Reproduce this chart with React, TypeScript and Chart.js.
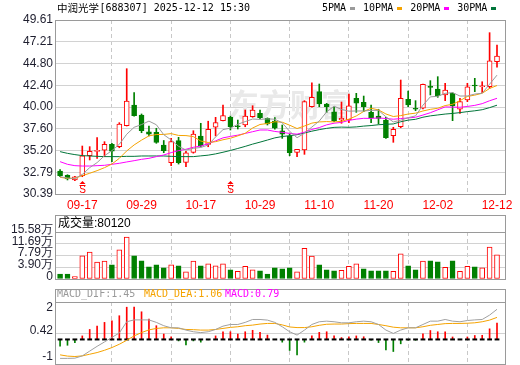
import React, { useEffect, useRef } from "react";
import { Chart, registerables } from "chart.js";

Chart.register(...registerables);

// ---------------- data ----------------
const stockName = "中润光学";
const stockCode = "688307";
const stamp = "2025-12-12 15:30";

const dates = ["09-12","09-15","09-16","09-17","09-18","09-19","09-22","09-23","09-24","09-25","09-26","09-29","09-30","10-09","10-10","10-13","10-14","10-15","10-16","10-17","10-20","10-21","10-22","10-23","10-24","10-27","10-28","10-29","10-30","10-31","11-03","11-04","11-05","11-06","11-07","11-10","11-11","11-12","11-13","11-14","11-17","11-18","11-19","11-20","11-21","11-24","11-25","11-26","11-27","11-28","12-01","12-02","12-03","12-04","12-05","12-08","12-09","12-10","12-11","12-12"];
const tickDates = ["09-17","09-29","10-17","10-29","11-10","11-20","12-02","12-12"];
const signalDates = ["09-17", "10-23"];

const openP = [32.93,32.46,31.94,32.41,34.62,35.10,35.22,35.88,35.61,37.93,40.22,39.12,37.27,37.20,35.80,33.85,36.28,33.89,34.99,36.80,35.86,37.76,38.49,38.86,37.93,38.01,38.93,39.30,38.75,38.45,37.38,36.80,34.99,35.25,40.03,41.69,40.33,39.48,38.56,38.56,40.96,40.52,39.41,39.01,38.56,36.83,37.82,40.85,39.86,39.86,42.24,41.99,41.33,41.51,39.75,40.77,42.40,42.24,42.24,45.00];
const highP = [33.10,32.52,32.35,35.69,35.62,36.61,36.17,35.99,38.27,44.23,41.58,39.23,37.90,37.65,36.30,36.54,36.65,35.10,37.38,38.20,38.43,38.86,40.22,39.00,38.56,39.67,40.14,39.67,38.80,38.82,38.01,37.00,35.33,40.70,42.68,42.54,40.40,40.03,40.55,41.44,41.51,41.21,40.22,39.75,38.86,37.76,42.98,41.77,40.70,42.54,42.91,43.35,42.62,41.58,40.96,42.62,43.17,42.79,48.21,46.85];
const lowP = [32.30,31.94,31.85,32.30,34.15,34.33,34.51,33.96,35.50,37.90,39.00,37.16,36.80,35.99,34.95,33.52,33.70,33.40,34.90,35.60,35.61,36.80,38.45,37.46,37.57,37.82,38.86,38.70,38.01,37.54,36.54,34.62,34.51,34.77,39.97,40.03,39.41,38.38,38.20,38.27,39.41,39.48,38.27,38.12,36.54,36.10,37.71,40.03,39.59,39.78,41.33,41.07,40.70,38.49,39.30,40.59,41.69,41.58,42.07,44.39];
const closeP = [32.41,32.05,32.30,34.62,35.11,35.20,35.88,35.11,38.12,40.66,39.04,37.38,37.00,36.10,35.17,36.17,33.85,34.95,37.00,35.69,37.52,38.27,39.04,37.82,37.82,39.01,39.67,38.82,38.12,37.65,37.00,34.95,35.33,40.59,41.07,40.33,40.03,38.45,38.75,40.14,40.41,40.03,38.82,38.75,36.61,37.54,40.96,40.22,39.75,42.51,42.17,41.25,41.88,40.14,40.59,42.24,42.32,42.32,45.11,45.63];

const ma5 = [32.30,32.15,32.10,32.55,33.30,33.86,34.62,35.18,35.88,36.99,37.76,38.06,38.44,38.04,36.94,36.36,35.66,35.25,35.43,35.53,35.80,36.69,37.50,37.67,38.09,38.39,38.67,38.63,38.69,38.65,38.25,37.31,36.61,37.10,37.79,38.45,39.47,40.09,39.73,39.54,39.56,39.56,39.63,39.63,38.92,38.35,38.54,38.82,39.02,40.20,41.12,41.18,41.51,41.59,41.21,41.22,41.43,41.52,42.52,43.52];
const ma10 = [32.23,32.12,32.12,32.42,32.68,32.97,33.30,33.70,34.33,35.15,35.81,36.34,36.81,36.96,36.97,37.06,36.86,36.84,36.73,36.24,36.08,36.17,36.38,36.55,36.81,37.10,37.68,38.07,38.18,38.37,38.32,37.99,37.62,37.90,38.22,38.35,38.39,38.35,38.42,38.66,39.01,39.51,39.86,39.68,39.23,38.95,39.05,39.22,39.32,39.56,39.74,39.86,40.16,40.30,40.70,41.17,41.31,41.52,42.05,42.37];
const ma20 = [33.96,33.67,33.52,33.48,33.48,33.52,33.56,33.67,33.78,33.93,34.07,34.22,34.33,34.52,34.70,34.96,35.18,35.33,35.55,35.69,35.95,36.26,36.59,36.75,36.89,37.08,37.27,37.46,37.46,37.30,37.20,37.08,37.00,37.22,37.52,37.73,38.03,38.21,38.30,38.52,38.66,38.75,38.74,38.79,38.73,38.65,38.72,38.79,38.87,39.11,39.37,39.69,40.01,39.99,39.97,40.06,40.18,40.37,40.69,40.96];
const ma30 = [35.07,34.88,34.74,34.63,34.59,34.55,34.52,34.52,34.52,34.55,34.55,34.59,34.59,34.59,34.59,34.55,34.52,34.52,34.52,34.60,34.68,34.82,35.00,35.20,35.42,35.65,35.90,36.12,36.35,36.59,36.74,36.83,36.94,37.13,37.33,37.50,37.64,37.75,37.78,37.76,37.80,37.89,37.95,38.04,38.09,38.13,38.37,38.55,38.64,38.87,39.02,39.12,39.22,39.29,39.38,39.49,39.58,39.70,39.93,40.20];

const volumes = [16700,16700,7700,76700,89000,55700,59000,46700,96700,139000,76700,60000,40000,46700,36700,46700,43400,23400,59000,43400,50000,43400,50000,30000,25700,42000,30000,26700,16700,36700,33400,36700,23400,102000,75700,46700,30000,26700,29000,42400,50000,33400,26700,26700,26700,25700,83400,43400,30000,59000,60000,56700,39000,60000,25700,42400,40000,36700,105800,80120];
const volUp = [0,0,1,1,1,1,1,0,1,1,0,0,0,0,0,1,0,1,1,0,1,1,1,0,1,1,1,0,0,0,0,0,1,1,1,0,0,0,1,1,1,0,0,0,0,1,1,0,0,1,0,0,1,0,1,1,0,1,1,1];

const dif = [-0.91,-0.91,-0.90,-0.79,-0.56,-0.33,-0.12,0.10,0.31,0.85,0.94,0.94,0.94,0.82,0.66,0.56,0.56,0.45,0.37,0.33,0.37,0.48,0.64,0.72,0.72,0.82,0.96,0.96,0.93,0.82,0.61,0.37,0.21,0.45,0.72,0.85,0.88,0.85,0.80,0.80,0.85,0.88,0.85,0.72,0.45,0.29,0.45,0.56,0.56,0.72,0.88,0.88,0.96,0.88,0.85,0.91,0.94,0.96,1.17,1.45];
const dea = [-0.74,-0.80,-0.82,-0.79,-0.71,-0.63,-0.52,-0.39,-0.23,-0.04,0.17,0.33,0.46,0.53,0.56,0.56,0.53,0.48,0.47,0.45,0.45,0.48,0.53,0.58,0.61,0.66,0.69,0.74,0.77,0.77,0.70,0.60,0.57,0.57,0.61,0.68,0.73,0.74,0.74,0.76,0.77,0.77,0.77,0.72,0.66,0.59,0.56,0.56,0.56,0.61,0.68,0.72,0.76,0.77,0.77,0.78,0.80,0.85,0.93,1.06];
const macd = [-0.32,-0.28,-0.16,0.17,0.48,0.64,0.82,0.90,1.14,1.55,1.55,1.33,0.98,0.66,0.26,0.12,-0.07,-0.26,-0.07,-0.13,-0.02,0.17,0.37,0.37,0.26,0.37,0.44,0.34,0.21,0.01,-0.13,-0.53,-0.74,-0.13,0.17,0.34,0.37,0.17,0.09,0.13,0.17,0.13,-0.04,-0.15,-0.50,-0.58,-0.21,-0.04,-0.04,0.27,0.43,0.37,0.37,0.12,0.01,0.12,0.19,0.20,0.51,0.79];

const priceTicks = [30.39, 32.79, 35.20, 37.60, 40.00, 42.40, 44.80, 47.21, 49.61];
const priceTickLabels = ["30.39","32.79","35.20","37.60","40.00","42.40","44.80","47.21","49.61"];
const volTicks = [0, 38950, 77900, 116900, 155800];
const volTickLabels = ["0", "3.90万", "7.79万", "11.69万", "15.58万"];
const macdTicks = [-1.01, 0.27, 1.36];
const macdTickLabels = ["-1", "0.42", "2"];

const maNames = ["5PMA", "10PMA", "20PMA", "30PMA"];
const maColors = ["#9b9b9b", "#f5a300", "#ff00ff", "#00753a"];

// ---------------- style ----------------
const UP = "#ff0000";
const DOWN = "#008000";
const FRAME = "#9a9a9a";
const GRID = "#d2d2d2";
const VGRID = "#c8c8c8";
const FONT = "'Liberation Sans', Arial, sans-serif";
const MONO = "'DejaVu Sans Mono', monospace";
const CJK = "'Noto Sans CJK SC'";
const X_MIN = -0.55;
const X_MAX = 60.08;

const tickIdx = tickDates.map((d) => dates.indexOf(d));
const signalIdx = signalDates.map((d) => dates.indexOf(d));
const isUp = (i: number) => closeP[i] >= openP[i];

function xAxis(height: number, labels: boolean): any {
  return {
    type: "linear",
    min: X_MIN,
    max: X_MAX,
    offset: false,
    afterBuildTicks: (s: any) => {
      s.ticks = tickIdx.map((v) => ({ value: v }));
    },
    afterFit: (s: any) => {
      s.height = height;
      s.paddingLeft = 0;
      s.paddingRight = 0;
    },
    ticks: {
      display: labels,
      autoSkip: false,
      maxRotation: 0,
      minRotation: 0,
      padding: 4,
      color: UP,
      font: { size: 12, family: FONT },
      callback: (v: any) => dates[v] ?? "",
    },
    grid: { color: VGRID, lineWidth: 1, drawTicks: false },
    border: { display: false, dash: [4, 3] },
  };
}

function yAxis(min: number, max: number, ticks: number[], labels: string[], labelOffset: number, gridColor: any): any {
  return {
    type: "linear",
    min,
    max,
    afterBuildTicks: (s: any) => {
      s.ticks = ticks.map((v) => ({ value: v }));
    },
    afterFit: (s: any) => {
      s.width = 56;
      s.paddingTop = 0;
      s.paddingBottom = 0;
    },
    ticks: {
      autoSkip: false,
      padding: 3,
      labelOffset,
      color: "#1e1e2e",
      font: { size: 12, family: FONT },
      callback: (_v: any, i: number) => labels[i],
    },
    grid: { color: gridColor, lineWidth: 1, drawTicks: false },
    border: { display: false },
  };
}

function drawFrame(ctx: CanvasRenderingContext2D, a: any, outerTop: number) {
  const l = Math.round(a.left) - 0.5;
  const r = Math.round(a.right) + 0.5;
  const t = Math.round(outerTop) + 0.5;
  const b = Math.round(a.bottom) + 0.5;
  ctx.save();
  ctx.strokeStyle = FRAME;
  ctx.lineWidth = 1;
  ctx.setLineDash([]);
  ctx.strokeRect(l, t, r - l, b - t);
  if (outerTop < a.top) {
    const s = Math.round(a.top) + 0.5;
    ctx.beginPath();
    ctx.moveTo(l, s);
    ctx.lineTo(r, s);
    ctx.stroke();
  }
  ctx.restore();
}

const baseOptions: any = {
  responsive: false,
  animation: false,
  devicePixelRatio: 1,
  events: [],
  plugins: { legend: { display: false }, tooltip: { enabled: false }, title: { display: false } },
};

export default function App() {
  const priceRef = useRef<HTMLCanvasElement>(null);
  const volRef = useRef<HTMLCanvasElement>(null);
  const macdRef = useRef<HTMLCanvasElement>(null);

  useEffect(() => {
    const charts: Chart[] = [];
    const idx = dates.map((_, i) => i);

    // -------- price panel --------
    const pricePlugin = {
      id: "priceDecor",
      beforeDatasetsDraw(chart: any) {
        const { ctx, chartArea: a } = chart;
        ctx.save();
        ctx.fillStyle = "#e9e9e9";
        ctx.font = `bold 31px ${CJK}`;
        ctx.textBaseline = "middle";
        ctx.textAlign = "left";
        ctx.fillText("东方财富", a.left + 172, a.top + 84);
        ctx.restore();
      },
      afterDatasetsDraw(chart: any) {
        const { ctx, chartArea: a, scales } = chart;
        ctx.save();
        ctx.fillStyle = UP;
        ctx.strokeStyle = UP;
        signalIdx.forEach((i) => {
          const x = Math.round(scales.x.getPixelForValue(i)) + 0.5;
          const yb = a.bottom;
          ctx.beginPath();
          ctx.moveTo(x - 3, yb - 10);
          ctx.lineTo(x + 3, yb - 10);
          ctx.lineTo(x, yb - 13);
          ctx.closePath();
          ctx.fill();
          ctx.fillRect(x - 3, yb - 9, 6, 1);
          ctx.font = `10px ${FONT}`;
          ctx.textAlign = "center";
          ctx.textBaseline = "middle";
          ctx.fillText("S", x, yb - 4);
        });
        ctx.restore();
      },
      afterDraw(chart: any) {
        const { ctx, chartArea: a } = chart;
        drawFrame(ctx, a, a.top);
        ctx.save();
        ctx.fillStyle = "#000";
        ctx.textBaseline = "middle";
        ctx.textAlign = "left";
        ctx.font = `10.5px ${CJK}`;
        ctx.fillText(stockName, 57, 8);
        const w = ctx.measureText(stockName).width;
        ctx.font = `10px ${MONO}`;
        ctx.fillText(`[${stockCode}] ${stamp}`, 57 + w + 0.5, 8);
        let x = 322;
        maNames.forEach((n, k) => {
          ctx.fillStyle = "#000";
          ctx.font = `10px ${MONO}`;
          ctx.fillText(n, x, 8);
          x += ctx.measureText(n).width + 4;
          ctx.fillStyle = maColors[k];
          ctx.fillRect(Math.round(x), 7, 5, 3);
          x += 5 + 8;
        });
        ctx.restore();
      },
    };

    const maSets = [ma5, ma10, ma20, ma30].map((arr, k) => ({
      type: "line",
      label: maNames[k],
      data: arr.map((v, i) => ({ x: i, y: v })),
      borderColor: maColors[k],
      borderWidth: 1,
      pointRadius: 0,
      tension: 0,
      order: 0,
    }));

    if (priceRef.current) {
      charts.push(
        new Chart(priceRef.current, {
          type: "bar",
          data: {
            datasets: [
              {
                type: "bar",
                label: "wick",
                data: idx.map((i) => ({ x: i, y: [lowP[i], highP[i]] })),
                backgroundColor: idx.map((i) => (isUp(i) ? UP : DOWN)),
                borderWidth: 0,
                barThickness: 1,
                grouped: false,
                order: 2,
              },
              {
                type: "bar",
                label: "body",
                data: idx.map((i) => ({ x: i, y: [openP[i], closeP[i]] })),
                backgroundColor: idx.map((i) => (isUp(i) ? "#ffffff" : DOWN)),
                borderColor: idx.map((i) => (isUp(i) ? UP : DOWN)),
                borderWidth: 1,
                borderSkipped: false,
                barThickness: 5,
                minBarLength: 1,
                grouped: false,
                order: 1,
              },
              ...maSets,
            ] as any,
          },
          options: {
            ...baseOptions,
            layout: { autoPadding: false, padding: { left: 0, right: 15, top: 20, bottom: 0 } },
            scales: {
              x: xAxis(18, true),
              y: yAxis(30.39, 49.61, priceTicks, priceTickLabels, 0, GRID),
            },
          },
          plugins: [pricePlugin],
        } as any)
      );
    }

    // -------- volume panel --------
    const volPlugin = {
      id: "volDecor",
      afterDraw(chart: any) {
        const { ctx, chartArea: a } = chart;
        drawFrame(ctx, a, a.top - 17);
        ctx.save();
        ctx.fillStyle = "#000";
        ctx.textBaseline = "middle";
        ctx.textAlign = "left";
        ctx.font = `12px ${FONT}, ${CJK}`;
        ctx.fillText(`成交量:${volumes[volumes.length - 1]}`, 58, 12);
        ctx.restore();
      },
    };
    if (volRef.current) {
      charts.push(
        new Chart(volRef.current, {
          type: "bar",
          data: {
            datasets: [
              {
                label: "volume",
                data: idx.map((i) => ({ x: i, y: volumes[i] })),
                backgroundColor: idx.map((i) => (volUp[i] ? "#ffffff" : DOWN)),
                borderColor: idx.map((i) => (volUp[i] ? UP : DOWN)),
                borderWidth: 1,
                borderSkipped: false,
                barThickness: 5,
                grouped: false,
              },
            ],
          },
          options: {
            ...baseOptions,
            layout: { autoPadding: false, padding: { left: 0, right: 15, top: 20, bottom: 0 } },
            scales: {
              x: xAxis(3, false),
              y: yAxis(0, 155800, volTicks, volTickLabels, -2.5, GRID),
            },
          },
          plugins: [volPlugin],
        } as any)
      );
    }

    // -------- MACD panel --------
    const macdPlugin = {
      id: "macdDecor",
      afterDraw(chart: any) {
        const { ctx, chartArea: a } = chart;
        drawFrame(ctx, a, a.top - 13);
        ctx.save();
        ctx.textBaseline = "middle";
        ctx.textAlign = "left";
        ctx.font = `10px ${MONO}`;
        const parts = [
          { t: `MACD_DIF:${dif[dif.length - 1].toFixed(2)}`, c: "#999999", x: 57 },
          { t: `MACD_DEA:${dea[dea.length - 1].toFixed(2)}`, c: "#f5a300", x: 144 },
          { t: `MACD:${macd[macd.length - 1].toFixed(2)}`, c: "#ff00ff", x: 225 },
        ];
        parts.forEach((p) => {
          ctx.fillStyle = p.c;
          ctx.fillText(p.t, p.x, 10.5);
        });
        ctx.restore();
      },
    };
    if (macdRef.current) {
      charts.push(
        new Chart(macdRef.current, {
          type: "bar",
          data: {
            datasets: [
              {
                type: "bar",
                label: "MACD",
                data: idx.map((i) => ({ x: i, y: macd[i] })),
                backgroundColor: idx.map((i) => (macd[i] >= 0 ? UP : DOWN)),
                borderWidth: 0,
                barThickness: 1,
                grouped: false,
                order: 2,
              },
              {
                type: "line",
                label: "zero",
                data: idx.map((i) => ({ x: i, y: 0 })),
                showLine: false,
                pointStyle: "line",
                pointRadius: 2.4,
                pointBorderColor: "#000",
                pointBorderWidth: 2,
                order: 1,
              },
              {
                type: "line",
                label: "DIF",
                data: idx.map((i) => ({ x: i, y: dif[i] })),
                borderColor: "#a0a0a0",
                borderWidth: 1,
                pointRadius: 0,
                tension: 0,
                order: 0,
              },
              {
                type: "line",
                label: "DEA",
                data: idx.map((i) => ({ x: i, y: dea[i] })),
                borderColor: "#f5a300",
                borderWidth: 1,
                pointRadius: 0,
                tension: 0,
                order: 0,
              },
            ] as any,
          },
          options: {
            ...baseOptions,
            layout: { autoPadding: false, padding: { left: 0, right: 15, top: 18, bottom: 0 } },
            scales: {
              x: xAxis(1, false),
              y: yAxis(-1.18, 1.8, macdTicks, macdTickLabels, -3.4, (c: any) =>
                c.index === 1 ? GRID : "rgba(0,0,0,0)"
              ),
            },
          },
          plugins: [macdPlugin],
        } as any)
      );
    }

    return () => charts.forEach((c) => c.destroy());
  }, []);

  return (
    <div style={{ position: "fixed", left: 0, top: 0, width: 520, height: 365, background: "#fff" }}>
      <canvas ref={priceRef} width={520} height={212} style={{ position: "absolute", left: 0, top: 0 }} />
      <canvas ref={volRef} width={520} height={70} style={{ position: "absolute", left: 0, top: 212 }} />
      <canvas ref={macdRef} width={520} height={81} style={{ position: "absolute", left: 0, top: 284 }} />
    </div>
  );
}
